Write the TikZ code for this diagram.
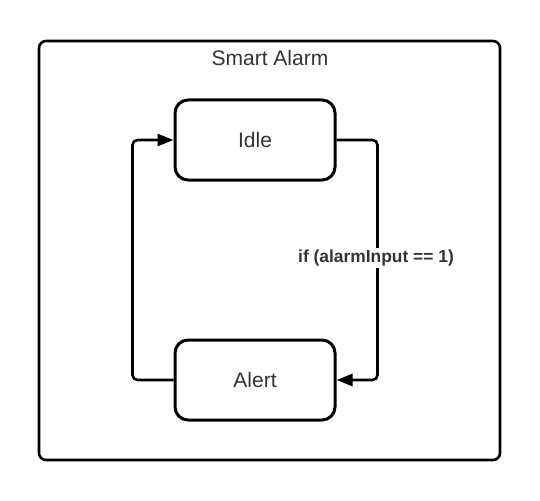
\documentclass[tikz,border=0pt]{standalone}
\usepackage{fontspec}
\setmainfont{Liberation Sans}
\usetikzlibrary{arrows.meta}
\definecolor{txt}{HTML}{333333}
\begin{document}
\begin{tikzpicture}[x=1pt,y=-1pt,
  statebox/.style={draw=black,line width=3pt,rounded corners=13pt,minimum width=160pt,minimum height=80pt,inner sep=0pt,font=\fontsize{21}{25}\selectfont,text=txt},
  conn/.style={draw=black,line width=2.6pt,rounded corners=5pt,-{Triangle[length=16pt,width=12pt]}}]
\useasboundingbox (0,0) rectangle (540,500);
\draw[line width=2.6pt,rounded corners=7pt] (39,41) rectangle (500,460);
\node[text=txt,font=\fontsize{21}{25}\selectfont] (title) at (270,58) {Smart Alarm};
\node[statebox] (idle) at (255,140) {Idle};
\node[statebox] (alert) at (255,380) {Alert};
\draw[conn] (idle.east) -- ++(41,0) |- (alert.east);
\draw[conn] (alert.west) -- ++(-41,0) |- (idle.west);
\node[fill=white,inner sep=2pt,text=txt,font=\bfseries\fontsize{17.4}{20}\selectfont] (lbl) at (376,258) {if (alarmInput == 1)};
\end{tikzpicture}
\end{document}
